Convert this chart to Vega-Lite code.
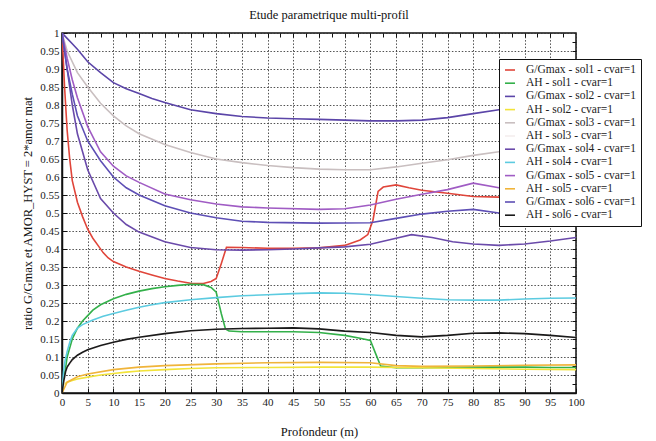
{
  "$schema": "https://vega.github.io/schema/vega-lite/v6.json",
  "autosize": {"type": "none"},
  "width": 514,
  "height": 360,
  "padding": {"left": 62, "top": 33, "right": 80, "bottom": 48},
  "background": "white",
  "title": {"text": "Etude parametrique multi-profil", "font": "Liberation Serif, Times New Roman, serif", "fontSize": 12.5, "fontWeight": "normal", "color": "#111", "offset": 6, "dx": 10},
  "config": {
    "font": "Liberation Serif, Times New Roman, serif",
    "view": {"stroke": "#111", "strokeWidth": 1.5},
    "axis": {"labelFont": "Liberation Serif, Times New Roman, serif", "titleFont": "Liberation Serif, Times New Roman, serif", "labelFontSize": 11, "titleFontSize": 12.5, "titleFontWeight": "normal", "labelColor": "#222", "titleColor": "#111", "gridDash": [1.5, 1.8], "gridColor": "#333", "gridOpacity": 0.85, "gridWidth": 1, "tickColor": "#111", "tickSize": -5, "domainColor": "#111", "domainWidth": 1.5},
    "legend": {"labelFont": "Liberation Serif, Times New Roman, serif"}
  },
  "data": {"values": [
    {"serie":"G/Gmax - sol1 - cvar=1","x":0,"y":1.0},{"serie":"G/Gmax - sol1 - cvar=1","x":0.5,"y":0.85},{"serie":"G/Gmax - sol1 - cvar=1","x":1,"y":0.73},{"serie":"G/Gmax - sol1 - cvar=1","x":1.5,"y":0.65},{"serie":"G/Gmax - sol1 - cvar=1","x":2,"y":0.59},{"serie":"G/Gmax - sol1 - cvar=1","x":3,"y":0.53},{"serie":"G/Gmax - sol1 - cvar=1","x":4,"y":0.49},{"serie":"G/Gmax - sol1 - cvar=1","x":5,"y":0.455},{"serie":"G/Gmax - sol1 - cvar=1","x":6,"y":0.43},{"serie":"G/Gmax - sol1 - cvar=1","x":7,"y":0.41},{"serie":"G/Gmax - sol1 - cvar=1","x":8,"y":0.39},{"serie":"G/Gmax - sol1 - cvar=1","x":9,"y":0.375},{"serie":"G/Gmax - sol1 - cvar=1","x":10,"y":0.365},{"serie":"G/Gmax - sol1 - cvar=1","x":12.5,"y":0.35},{"serie":"G/Gmax - sol1 - cvar=1","x":15,"y":0.338},{"serie":"G/Gmax - sol1 - cvar=1","x":17.5,"y":0.328},{"serie":"G/Gmax - sol1 - cvar=1","x":20,"y":0.318},{"serie":"G/Gmax - sol1 - cvar=1","x":22.5,"y":0.311},{"serie":"G/Gmax - sol1 - cvar=1","x":25,"y":0.305},{"serie":"G/Gmax - sol1 - cvar=1","x":27.5,"y":0.304},{"serie":"G/Gmax - sol1 - cvar=1","x":29,"y":0.31},{"serie":"G/Gmax - sol1 - cvar=1","x":30,"y":0.318},{"serie":"G/Gmax - sol1 - cvar=1","x":31,"y":0.36},{"serie":"G/Gmax - sol1 - cvar=1","x":32,"y":0.405},{"serie":"G/Gmax - sol1 - cvar=1","x":35,"y":0.404},{"serie":"G/Gmax - sol1 - cvar=1","x":40,"y":0.402},{"serie":"G/Gmax - sol1 - cvar=1","x":45,"y":0.402},{"serie":"G/Gmax - sol1 - cvar=1","x":50,"y":0.403},{"serie":"G/Gmax - sol1 - cvar=1","x":55,"y":0.41},{"serie":"G/Gmax - sol1 - cvar=1","x":58,"y":0.425},{"serie":"G/Gmax - sol1 - cvar=1","x":59.5,"y":0.44},{"serie":"G/Gmax - sol1 - cvar=1","x":60.5,"y":0.48},{"serie":"G/Gmax - sol1 - cvar=1","x":61.5,"y":0.56},{"serie":"G/Gmax - sol1 - cvar=1","x":62.5,"y":0.572},{"serie":"G/Gmax - sol1 - cvar=1","x":65,"y":0.578},{"serie":"G/Gmax - sol1 - cvar=1","x":67.5,"y":0.57},{"serie":"G/Gmax - sol1 - cvar=1","x":70,"y":0.563},{"serie":"G/Gmax - sol1 - cvar=1","x":75,"y":0.555},{"serie":"G/Gmax - sol1 - cvar=1","x":80,"y":0.546},{"serie":"G/Gmax - sol1 - cvar=1","x":85,"y":0.544},{"serie":"G/Gmax - sol1 - cvar=1","x":90,"y":0.543},{"serie":"G/Gmax - sol1 - cvar=1","x":95,"y":0.543},{"serie":"G/Gmax - sol1 - cvar=1","x":100,"y":0.543},

    {"serie":"AH - sol1 - cvar=1","x":0,"y":0.0},{"serie":"AH - sol1 - cvar=1","x":0.3,"y":0.03},{"serie":"AH - sol1 - cvar=1","x":0.7,"y":0.07},{"serie":"AH - sol1 - cvar=1","x":1,"y":0.1},{"serie":"AH - sol1 - cvar=1","x":1.5,"y":0.125},{"serie":"AH - sol1 - cvar=1","x":2,"y":0.15},{"serie":"AH - sol1 - cvar=1","x":3,"y":0.18},{"serie":"AH - sol1 - cvar=1","x":4,"y":0.2},{"serie":"AH - sol1 - cvar=1","x":5,"y":0.215},{"serie":"AH - sol1 - cvar=1","x":6,"y":0.23},{"serie":"AH - sol1 - cvar=1","x":7.5,"y":0.245},{"serie":"AH - sol1 - cvar=1","x":10,"y":0.262},{"serie":"AH - sol1 - cvar=1","x":12.5,"y":0.274},{"serie":"AH - sol1 - cvar=1","x":15,"y":0.283},{"serie":"AH - sol1 - cvar=1","x":17.5,"y":0.29},{"serie":"AH - sol1 - cvar=1","x":20,"y":0.295},{"serie":"AH - sol1 - cvar=1","x":22.5,"y":0.299},{"serie":"AH - sol1 - cvar=1","x":25,"y":0.302},{"serie":"AH - sol1 - cvar=1","x":27.5,"y":0.301},{"serie":"AH - sol1 - cvar=1","x":29,"y":0.293},{"serie":"AH - sol1 - cvar=1","x":30,"y":0.28},{"serie":"AH - sol1 - cvar=1","x":31,"y":0.22},{"serie":"AH - sol1 - cvar=1","x":31.8,"y":0.178},{"serie":"AH - sol1 - cvar=1","x":32.5,"y":0.172},{"serie":"AH - sol1 - cvar=1","x":35,"y":0.17},{"serie":"AH - sol1 - cvar=1","x":40,"y":0.17},{"serie":"AH - sol1 - cvar=1","x":45,"y":0.17},{"serie":"AH - sol1 - cvar=1","x":50,"y":0.168},{"serie":"AH - sol1 - cvar=1","x":55,"y":0.16},{"serie":"AH - sol1 - cvar=1","x":58,"y":0.152},{"serie":"AH - sol1 - cvar=1","x":60,"y":0.146},{"serie":"AH - sol1 - cvar=1","x":61,"y":0.11},{"serie":"AH - sol1 - cvar=1","x":62,"y":0.075},{"serie":"AH - sol1 - cvar=1","x":65,"y":0.07},{"serie":"AH - sol1 - cvar=1","x":70,"y":0.07},{"serie":"AH - sol1 - cvar=1","x":75,"y":0.071},{"serie":"AH - sol1 - cvar=1","x":80,"y":0.072},{"serie":"AH - sol1 - cvar=1","x":85,"y":0.072},{"serie":"AH - sol1 - cvar=1","x":90,"y":0.072},{"serie":"AH - sol1 - cvar=1","x":95,"y":0.071},{"serie":"AH - sol1 - cvar=1","x":100,"y":0.071},

    {"serie":"G/Gmax - sol2 - cvar=1","x":0,"y":1.0},{"serie":"G/Gmax - sol2 - cvar=1","x":1,"y":0.985},{"serie":"G/Gmax - sol2 - cvar=1","x":2,"y":0.97},{"serie":"G/Gmax - sol2 - cvar=1","x":3,"y":0.955},{"serie":"G/Gmax - sol2 - cvar=1","x":5,"y":0.92},{"serie":"G/Gmax - sol2 - cvar=1","x":7.5,"y":0.89},{"serie":"G/Gmax - sol2 - cvar=1","x":10,"y":0.862},{"serie":"G/Gmax - sol2 - cvar=1","x":12.5,"y":0.845},{"serie":"G/Gmax - sol2 - cvar=1","x":15,"y":0.832},{"serie":"G/Gmax - sol2 - cvar=1","x":17.5,"y":0.818},{"serie":"G/Gmax - sol2 - cvar=1","x":20,"y":0.807},{"serie":"G/Gmax - sol2 - cvar=1","x":25,"y":0.787},{"serie":"G/Gmax - sol2 - cvar=1","x":30,"y":0.776},{"serie":"G/Gmax - sol2 - cvar=1","x":35,"y":0.768},{"serie":"G/Gmax - sol2 - cvar=1","x":40,"y":0.764},{"serie":"G/Gmax - sol2 - cvar=1","x":45,"y":0.762},{"serie":"G/Gmax - sol2 - cvar=1","x":50,"y":0.76},{"serie":"G/Gmax - sol2 - cvar=1","x":55,"y":0.758},{"serie":"G/Gmax - sol2 - cvar=1","x":60,"y":0.756},{"serie":"G/Gmax - sol2 - cvar=1","x":65,"y":0.756},{"serie":"G/Gmax - sol2 - cvar=1","x":70,"y":0.758},{"serie":"G/Gmax - sol2 - cvar=1","x":75,"y":0.765},{"serie":"G/Gmax - sol2 - cvar=1","x":80,"y":0.776},{"serie":"G/Gmax - sol2 - cvar=1","x":85,"y":0.787},{"serie":"G/Gmax - sol2 - cvar=1","x":90,"y":0.793},{"serie":"G/Gmax - sol2 - cvar=1","x":95,"y":0.797},{"serie":"G/Gmax - sol2 - cvar=1","x":100,"y":0.8},

    {"serie":"AH - sol2 - cvar=1","x":0,"y":0.02},{"serie":"AH - sol2 - cvar=1","x":1,"y":0.03},{"serie":"AH - sol2 - cvar=1","x":2,"y":0.035},{"serie":"AH - sol2 - cvar=1","x":3,"y":0.039},{"serie":"AH - sol2 - cvar=1","x":5,"y":0.044},{"serie":"AH - sol2 - cvar=1","x":7.5,"y":0.05},{"serie":"AH - sol2 - cvar=1","x":10,"y":0.054},{"serie":"AH - sol2 - cvar=1","x":12.5,"y":0.058},{"serie":"AH - sol2 - cvar=1","x":15,"y":0.061},{"serie":"AH - sol2 - cvar=1","x":20,"y":0.065},{"serie":"AH - sol2 - cvar=1","x":25,"y":0.068},{"serie":"AH - sol2 - cvar=1","x":30,"y":0.07},{"serie":"AH - sol2 - cvar=1","x":40,"y":0.071},{"serie":"AH - sol2 - cvar=1","x":50,"y":0.072},{"serie":"AH - sol2 - cvar=1","x":60,"y":0.072},{"serie":"AH - sol2 - cvar=1","x":70,"y":0.07},{"serie":"AH - sol2 - cvar=1","x":80,"y":0.068},{"serie":"AH - sol2 - cvar=1","x":90,"y":0.066},{"serie":"AH - sol2 - cvar=1","x":100,"y":0.065},

    {"serie":"G/Gmax - sol3 - cvar=1","x":0,"y":1.0},{"serie":"G/Gmax - sol3 - cvar=1","x":1,"y":0.95},{"serie":"G/Gmax - sol3 - cvar=1","x":3,"y":0.89},{"serie":"G/Gmax - sol3 - cvar=1","x":5,"y":0.85},{"serie":"G/Gmax - sol3 - cvar=1","x":7.5,"y":0.805},{"serie":"G/Gmax - sol3 - cvar=1","x":10,"y":0.77},{"serie":"G/Gmax - sol3 - cvar=1","x":12.5,"y":0.742},{"serie":"G/Gmax - sol3 - cvar=1","x":15,"y":0.72},{"serie":"G/Gmax - sol3 - cvar=1","x":20,"y":0.69},{"serie":"G/Gmax - sol3 - cvar=1","x":25,"y":0.668},{"serie":"G/Gmax - sol3 - cvar=1","x":30,"y":0.65},{"serie":"G/Gmax - sol3 - cvar=1","x":35,"y":0.64},{"serie":"G/Gmax - sol3 - cvar=1","x":40,"y":0.632},{"serie":"G/Gmax - sol3 - cvar=1","x":45,"y":0.626},{"serie":"G/Gmax - sol3 - cvar=1","x":50,"y":0.622},{"serie":"G/Gmax - sol3 - cvar=1","x":55,"y":0.62},{"serie":"G/Gmax - sol3 - cvar=1","x":60,"y":0.62},{"serie":"G/Gmax - sol3 - cvar=1","x":65,"y":0.628},{"serie":"G/Gmax - sol3 - cvar=1","x":70,"y":0.638},{"serie":"G/Gmax - sol3 - cvar=1","x":75,"y":0.648},{"serie":"G/Gmax - sol3 - cvar=1","x":80,"y":0.66},{"serie":"G/Gmax - sol3 - cvar=1","x":85,"y":0.67},{"serie":"G/Gmax - sol3 - cvar=1","x":90,"y":0.68},{"serie":"G/Gmax - sol3 - cvar=1","x":95,"y":0.685},{"serie":"G/Gmax - sol3 - cvar=1","x":100,"y":0.69},

    {"serie":"AH - sol3 - cvar=1","x":0,"y":0.0},{"serie":"AH - sol3 - cvar=1","x":1,"y":0.072},{"serie":"AH - sol3 - cvar=1","x":3,"y":0.105},{"serie":"AH - sol3 - cvar=1","x":5,"y":0.12},{"serie":"AH - sol3 - cvar=1","x":10,"y":0.141},{"serie":"AH - sol3 - cvar=1","x":15,"y":0.155},{"serie":"AH - sol3 - cvar=1","x":20,"y":0.165},{"serie":"AH - sol3 - cvar=1","x":30,"y":0.177},{"serie":"AH - sol3 - cvar=1","x":40,"y":0.18},{"serie":"AH - sol3 - cvar=1","x":50,"y":0.178},{"serie":"AH - sol3 - cvar=1","x":60,"y":0.168},{"serie":"AH - sol3 - cvar=1","x":70,"y":0.156},{"serie":"AH - sol3 - cvar=1","x":80,"y":0.166},{"serie":"AH - sol3 - cvar=1","x":90,"y":0.165},{"serie":"AH - sol3 - cvar=1","x":100,"y":0.154},

    {"serie":"G/Gmax - sol4 - cvar=1","x":0,"y":1.0},{"serie":"G/Gmax - sol4 - cvar=1","x":1,"y":0.9},{"serie":"G/Gmax - sol4 - cvar=1","x":2,"y":0.8},{"serie":"G/Gmax - sol4 - cvar=1","x":3,"y":0.72},{"serie":"G/Gmax - sol4 - cvar=1","x":5,"y":0.62},{"serie":"G/Gmax - sol4 - cvar=1","x":7.5,"y":0.54},{"serie":"G/Gmax - sol4 - cvar=1","x":10,"y":0.5},{"serie":"G/Gmax - sol4 - cvar=1","x":12.5,"y":0.468},{"serie":"G/Gmax - sol4 - cvar=1","x":15,"y":0.447},{"serie":"G/Gmax - sol4 - cvar=1","x":20,"y":0.42},{"serie":"G/Gmax - sol4 - cvar=1","x":25,"y":0.404},{"serie":"G/Gmax - sol4 - cvar=1","x":30,"y":0.398},{"serie":"G/Gmax - sol4 - cvar=1","x":35,"y":0.397},{"serie":"G/Gmax - sol4 - cvar=1","x":40,"y":0.398},{"serie":"G/Gmax - sol4 - cvar=1","x":45,"y":0.4},{"serie":"G/Gmax - sol4 - cvar=1","x":50,"y":0.403},{"serie":"G/Gmax - sol4 - cvar=1","x":55,"y":0.406},{"serie":"G/Gmax - sol4 - cvar=1","x":60,"y":0.413},{"serie":"G/Gmax - sol4 - cvar=1","x":65,"y":0.43},{"serie":"G/Gmax - sol4 - cvar=1","x":68,"y":0.44},{"serie":"G/Gmax - sol4 - cvar=1","x":72,"y":0.432},{"serie":"G/Gmax - sol4 - cvar=1","x":76,"y":0.42},{"serie":"G/Gmax - sol4 - cvar=1","x":80,"y":0.414},{"serie":"G/Gmax - sol4 - cvar=1","x":85,"y":0.41},{"serie":"G/Gmax - sol4 - cvar=1","x":90,"y":0.414},{"serie":"G/Gmax - sol4 - cvar=1","x":95,"y":0.422},{"serie":"G/Gmax - sol4 - cvar=1","x":100,"y":0.432},

    {"serie":"AH - sol4 - cvar=1","x":0,"y":0.0},{"serie":"AH - sol4 - cvar=1","x":0.3,"y":0.06},{"serie":"AH - sol4 - cvar=1","x":0.6,"y":0.09},{"serie":"AH - sol4 - cvar=1","x":1,"y":0.115},{"serie":"AH - sol4 - cvar=1","x":1.5,"y":0.14},{"serie":"AH - sol4 - cvar=1","x":2,"y":0.16},{"serie":"AH - sol4 - cvar=1","x":3,"y":0.18},{"serie":"AH - sol4 - cvar=1","x":4,"y":0.19},{"serie":"AH - sol4 - cvar=1","x":6,"y":0.203},{"serie":"AH - sol4 - cvar=1","x":8,"y":0.213},{"serie":"AH - sol4 - cvar=1","x":10,"y":0.221},{"serie":"AH - sol4 - cvar=1","x":12.5,"y":0.23},{"serie":"AH - sol4 - cvar=1","x":15,"y":0.238},{"serie":"AH - sol4 - cvar=1","x":17.5,"y":0.245},{"serie":"AH - sol4 - cvar=1","x":20,"y":0.251},{"serie":"AH - sol4 - cvar=1","x":25,"y":0.259},{"serie":"AH - sol4 - cvar=1","x":30,"y":0.265},{"serie":"AH - sol4 - cvar=1","x":35,"y":0.27},{"serie":"AH - sol4 - cvar=1","x":40,"y":0.273},{"serie":"AH - sol4 - cvar=1","x":45,"y":0.276},{"serie":"AH - sol4 - cvar=1","x":50,"y":0.278},{"serie":"AH - sol4 - cvar=1","x":55,"y":0.277},{"serie":"AH - sol4 - cvar=1","x":60,"y":0.273},{"serie":"AH - sol4 - cvar=1","x":65,"y":0.268},{"serie":"AH - sol4 - cvar=1","x":70,"y":0.263},{"serie":"AH - sol4 - cvar=1","x":75,"y":0.259},{"serie":"AH - sol4 - cvar=1","x":80,"y":0.258},{"serie":"AH - sol4 - cvar=1","x":85,"y":0.258},{"serie":"AH - sol4 - cvar=1","x":90,"y":0.261},{"serie":"AH - sol4 - cvar=1","x":95,"y":0.263},{"serie":"AH - sol4 - cvar=1","x":100,"y":0.264},

    {"serie":"G/Gmax - sol5 - cvar=1","x":0,"y":1.0},{"serie":"G/Gmax - sol5 - cvar=1","x":1,"y":0.93},{"serie":"G/Gmax - sol5 - cvar=1","x":2,"y":0.87},{"serie":"G/Gmax - sol5 - cvar=1","x":3,"y":0.82},{"serie":"G/Gmax - sol5 - cvar=1","x":5,"y":0.74},{"serie":"G/Gmax - sol5 - cvar=1","x":7.5,"y":0.67},{"serie":"G/Gmax - sol5 - cvar=1","x":10,"y":0.63},{"serie":"G/Gmax - sol5 - cvar=1","x":12.5,"y":0.603},{"serie":"G/Gmax - sol5 - cvar=1","x":15,"y":0.585},{"serie":"G/Gmax - sol5 - cvar=1","x":20,"y":0.553},{"serie":"G/Gmax - sol5 - cvar=1","x":25,"y":0.537},{"serie":"G/Gmax - sol5 - cvar=1","x":30,"y":0.525},{"serie":"G/Gmax - sol5 - cvar=1","x":35,"y":0.517},{"serie":"G/Gmax - sol5 - cvar=1","x":40,"y":0.514},{"serie":"G/Gmax - sol5 - cvar=1","x":50,"y":0.51},{"serie":"G/Gmax - sol5 - cvar=1","x":55,"y":0.512},{"serie":"G/Gmax - sol5 - cvar=1","x":60,"y":0.522},{"serie":"G/Gmax - sol5 - cvar=1","x":65,"y":0.538},{"serie":"G/Gmax - sol5 - cvar=1","x":70,"y":0.552},{"serie":"G/Gmax - sol5 - cvar=1","x":75,"y":0.565},{"serie":"G/Gmax - sol5 - cvar=1","x":80,"y":0.583},{"serie":"G/Gmax - sol5 - cvar=1","x":85,"y":0.57},{"serie":"G/Gmax - sol5 - cvar=1","x":90,"y":0.56},{"serie":"G/Gmax - sol5 - cvar=1","x":95,"y":0.553},{"serie":"G/Gmax - sol5 - cvar=1","x":100,"y":0.548},

    {"serie":"AH - sol5 - cvar=1","x":0,"y":0.0},{"serie":"AH - sol5 - cvar=1","x":1,"y":0.03},{"serie":"AH - sol5 - cvar=1","x":3,"y":0.045},{"serie":"AH - sol5 - cvar=1","x":5,"y":0.053},{"serie":"AH - sol5 - cvar=1","x":10,"y":0.065},{"serie":"AH - sol5 - cvar=1","x":15,"y":0.072},{"serie":"AH - sol5 - cvar=1","x":20,"y":0.076},{"serie":"AH - sol5 - cvar=1","x":30,"y":0.081},{"serie":"AH - sol5 - cvar=1","x":40,"y":0.084},{"serie":"AH - sol5 - cvar=1","x":50,"y":0.085},{"serie":"AH - sol5 - cvar=1","x":60,"y":0.084},{"serie":"AH - sol5 - cvar=1","x":65,"y":0.076},{"serie":"AH - sol5 - cvar=1","x":70,"y":0.074},{"serie":"AH - sol5 - cvar=1","x":80,"y":0.075},{"serie":"AH - sol5 - cvar=1","x":90,"y":0.077},{"serie":"AH - sol5 - cvar=1","x":100,"y":0.078},

    {"serie":"G/Gmax - sol6 - cvar=1","x":0,"y":1.0},{"serie":"G/Gmax - sol6 - cvar=1","x":1,"y":0.9},{"serie":"G/Gmax - sol6 - cvar=1","x":2,"y":0.83},{"serie":"G/Gmax - sol6 - cvar=1","x":3,"y":0.77},{"serie":"G/Gmax - sol6 - cvar=1","x":5,"y":0.7},{"serie":"G/Gmax - sol6 - cvar=1","x":7.5,"y":0.645},{"serie":"G/Gmax - sol6 - cvar=1","x":10,"y":0.6},{"serie":"G/Gmax - sol6 - cvar=1","x":12.5,"y":0.57},{"serie":"G/Gmax - sol6 - cvar=1","x":15,"y":0.55},{"serie":"G/Gmax - sol6 - cvar=1","x":20,"y":0.52},{"serie":"G/Gmax - sol6 - cvar=1","x":25,"y":0.5},{"serie":"G/Gmax - sol6 - cvar=1","x":30,"y":0.487},{"serie":"G/Gmax - sol6 - cvar=1","x":35,"y":0.477},{"serie":"G/Gmax - sol6 - cvar=1","x":40,"y":0.474},{"serie":"G/Gmax - sol6 - cvar=1","x":50,"y":0.472},{"serie":"G/Gmax - sol6 - cvar=1","x":60,"y":0.473},{"serie":"G/Gmax - sol6 - cvar=1","x":65,"y":0.485},{"serie":"G/Gmax - sol6 - cvar=1","x":70,"y":0.497},{"serie":"G/Gmax - sol6 - cvar=1","x":75,"y":0.505},{"serie":"G/Gmax - sol6 - cvar=1","x":80,"y":0.51},{"serie":"G/Gmax - sol6 - cvar=1","x":85,"y":0.5},{"serie":"G/Gmax - sol6 - cvar=1","x":90,"y":0.5},{"serie":"G/Gmax - sol6 - cvar=1","x":95,"y":0.505},{"serie":"G/Gmax - sol6 - cvar=1","x":100,"y":0.51},

    {"serie":"AH - sol6 - cvar=1","x":0,"y":0.0},{"serie":"AH - sol6 - cvar=1","x":0.3,"y":0.03},{"serie":"AH - sol6 - cvar=1","x":0.7,"y":0.06},{"serie":"AH - sol6 - cvar=1","x":1,"y":0.072},{"serie":"AH - sol6 - cvar=1","x":1.5,"y":0.083},{"serie":"AH - sol6 - cvar=1","x":2,"y":0.093},{"serie":"AH - sol6 - cvar=1","x":3,"y":0.105},{"serie":"AH - sol6 - cvar=1","x":4,"y":0.113},{"serie":"AH - sol6 - cvar=1","x":5,"y":0.12},{"serie":"AH - sol6 - cvar=1","x":7.5,"y":0.132},{"serie":"AH - sol6 - cvar=1","x":10,"y":0.141},{"serie":"AH - sol6 - cvar=1","x":12.5,"y":0.149},{"serie":"AH - sol6 - cvar=1","x":15,"y":0.155},{"serie":"AH - sol6 - cvar=1","x":20,"y":0.165},{"serie":"AH - sol6 - cvar=1","x":25,"y":0.173},{"serie":"AH - sol6 - cvar=1","x":30,"y":0.177},{"serie":"AH - sol6 - cvar=1","x":35,"y":0.179},{"serie":"AH - sol6 - cvar=1","x":40,"y":0.18},{"serie":"AH - sol6 - cvar=1","x":45,"y":0.181},{"serie":"AH - sol6 - cvar=1","x":50,"y":0.178},{"serie":"AH - sol6 - cvar=1","x":55,"y":0.172},{"serie":"AH - sol6 - cvar=1","x":60,"y":0.168},{"serie":"AH - sol6 - cvar=1","x":65,"y":0.16},{"serie":"AH - sol6 - cvar=1","x":70,"y":0.156},{"serie":"AH - sol6 - cvar=1","x":75,"y":0.16},{"serie":"AH - sol6 - cvar=1","x":80,"y":0.166},{"serie":"AH - sol6 - cvar=1","x":85,"y":0.167},{"serie":"AH - sol6 - cvar=1","x":90,"y":0.165},{"serie":"AH - sol6 - cvar=1","x":95,"y":0.16},{"serie":"AH - sol6 - cvar=1","x":100,"y":0.154}
  ]},
  "layer": [
    {
      "mark": {"type": "line", "strokeWidth": 1.6, "clip": true},
      "encoding": {
        "x": {"field": "x", "type": "quantitative", "scale": {"domain": [0, 100], "nice": false}, "axis": {"title": "Profondeur (m)", "grid": true, "values": [0,5,10,15,20,25,30,35,40,45,50,55,60,65,70,75,80,85,90,95,100], "labelPadding": 8, "titlePadding": 18, "labelFlush": false}},
        "y": {"field": "y", "type": "quantitative", "scale": {"domain": [0, 1], "nice": false}, "axis": {"title": "ratio G/Gmax et AMOR_HYST = 2*amor mat", "grid": true, "values": [0,0.05,0.1,0.15,0.2,0.25,0.3,0.35,0.4,0.45,0.5,0.55,0.6,0.65,0.7,0.75,0.8,0.85,0.9,0.95,1], "format": "~g", "labelPadding": 8, "titlePadding": 5, "labelFlush": false}},
        "color": {"field": "serie", "type": "nominal",
          "scale": {"domain": ["G/Gmax - sol1 - cvar=1","AH - sol1 - cvar=1","G/Gmax - sol2 - cvar=1","AH - sol2 - cvar=1","G/Gmax - sol3 - cvar=1","AH - sol3 - cvar=1","G/Gmax - sol4 - cvar=1","AH - sol4 - cvar=1","G/Gmax - sol5 - cvar=1","AH - sol5 - cvar=1","G/Gmax - sol6 - cvar=1","AH - sol6 - cvar=1"],
            "range": ["#e0453a","#33b04a","#5b45a8","#f2e33a","#c9bfc0","#f4eeee","#6a4aaa","#5ccbe0","#a05cc4","#f0b43a","#5e4fb5","#1a1a1a"]},
          "legend": {"title": null, "orient": "none", "legendX": 437, "legendY": 26, "padding": 5, "strokeColor": "#111", "fillColor": "white", "symbolType": "stroke", "symbolStrokeWidth": 1.6, "symbolSize": 100, "labelFontSize": 11.5, "labelColor": "#222", "rowPadding": 1.2, "labelOffset": 10, "labelLimit": 200}
        },
        "order": {"field": "x", "type": "quantitative"}
      }
    },
    {
      "mark": {"type": "line", "opacity": 0, "clip": true},
      "encoding": {
        "detail": {"field": "serie"},
        "x": {"field": "x", "type": "quantitative", "axis": {"orient": "top", "title": null, "labels": false, "grid": false, "domain": false, "tickSize": -4, "values": [2.5,5,7.5,10,12.5,15,17.5,20,22.5,25,27.5,30,32.5,35,37.5,40,42.5,45,47.5,50,52.5,55,57.5,60,62.5,65,67.5,70,72.5,75,77.5,80,82.5,85,87.5,90,92.5,95,97.5]}},
        "y": {"field": "y", "type": "quantitative", "axis": {"orient": "right", "title": null, "labels": false, "grid": false, "domain": false, "tickSize": -4, "values": [0.025,0.05,0.075,0.1,0.125,0.15,0.175,0.2,0.225,0.25,0.275,0.3,0.325,0.35,0.375,0.4,0.425,0.45,0.475,0.5,0.525,0.55,0.575,0.6,0.625,0.65,0.675,0.7,0.725,0.75,0.775,0.8,0.825,0.85,0.875,0.9,0.925,0.95,0.975]}},
        "order": {"field": "x", "type": "quantitative"}
      }
    }
  ],
  "resolve": {"axis": {"x": "independent", "y": "independent"}}
}
